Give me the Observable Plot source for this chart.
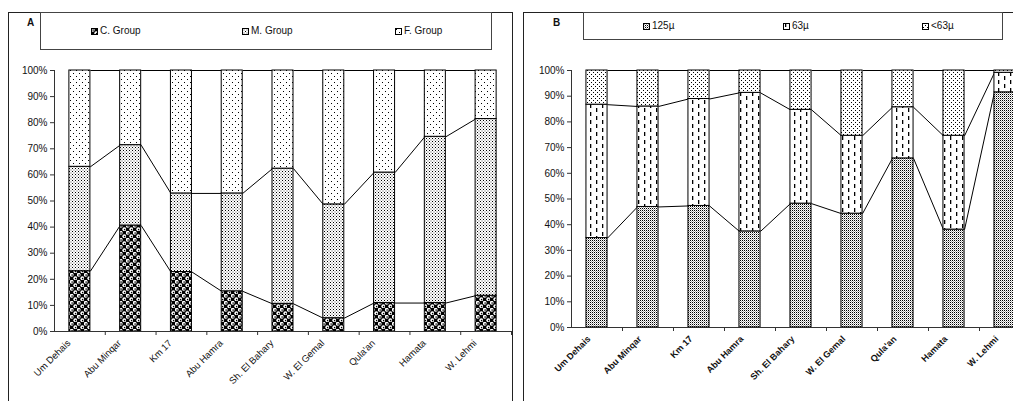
<!DOCTYPE html>
<html>
<head>
<meta charset="utf-8">
<script src="https://cdn.jsdelivr.net/npm/d3@7"></script>
<script src="https://cdn.jsdelivr.net/npm/@observablehq/plot@0.6"></script>
<style>
  body { margin: 0; background: #fff; font-family: "Liberation Sans", Arial, sans-serif; }
  #page { position: relative; width: 1013px; height: 401px; overflow: hidden; background: #fff; }
  .frame { position: absolute; border: 1px solid #222; box-sizing: border-box; }
  .legend { position: absolute; border: 1px solid #444; box-sizing: border-box; background: #fff; }
  .item { position: absolute; font-size: 10px; line-height: 12px; white-space: nowrap; color: #111; }
  .item svg { vertical-align: -1px; margin-right: 2px; }
  .tag { position: absolute; font-weight: bold; font-size: 10px; color: #111; }
  .plot { position: absolute; left: 0; top: 0; }
</style>
</head>
<body>
<!-- fill patterns shared by bars and legend swatches -->
<svg width="0" height="0" style="position:absolute">
  <defs>
    <pattern id="patC" width="7" height="7" patternUnits="userSpaceOnUse">
      <rect width="7" height="7" fill="#000"/>
      <circle cx="1.75" cy="1.75" r="1.9" fill="#fff"/>
      <circle cx="5.25" cy="5.25" r="1.9" fill="#fff"/>
      <circle cx="2.1" cy="2.1" r="0.8" fill="#000"/>
      <circle cx="5.6" cy="5.6" r="0.8" fill="#000"/>
    </pattern>
    <pattern id="patM" width="3" height="3" patternUnits="userSpaceOnUse">
      <rect width="3" height="3" fill="#fff"/>
      <rect x="0" y="0" width="1" height="1" fill="#000"/>
      <rect x="1.5" y="1.5" width="1" height="1" fill="#555"/>
    </pattern>
    <pattern id="patF" width="6" height="6" patternUnits="userSpaceOnUse">
      <rect width="6" height="6" fill="#fff"/>
      <rect x="1" y="1" width="1" height="1" fill="#000"/>
      <rect x="4" y="4" width="1" height="1" fill="#000"/>
    </pattern>
    <pattern id="pat125" width="2" height="2" patternUnits="userSpaceOnUse">
      <rect width="2" height="2" fill="#fff"/>
      <rect x="0" y="0" width="1" height="1" fill="#000"/>
      <rect x="1" y="1" width="1" height="1" fill="#aaa"/>
    </pattern>
    <pattern id="pat63" width="12" height="8" patternUnits="userSpaceOnUse">
      <rect width="12" height="8" fill="#fff"/>
      <rect x="2" y="0" width="1.3" height="4" fill="#000"/>
      <rect x="8" y="4" width="1.3" height="4" fill="#000"/>
    </pattern>
    <pattern id="patFine" width="4" height="4" patternUnits="userSpaceOnUse">
      <rect width="4" height="4" fill="#fff"/>
      <rect x="1" y="0" width="1" height="1" fill="#000"/>
      <rect x="3" y="2" width="1" height="1" fill="#000"/>
    </pattern>
  </defs>
</svg>

<div id="page">
  <div class="frame" style="left:8px;top:12px;width:505px;height:400px"></div>
  <div class="frame" style="left:523px;top:12px;width:600px;height:400px"></div>
  <div class="legend" id="legA" style="left:40px;top:12px;width:452px;height:38px"></div>
  <div class="legend" id="legB" style="left:583px;top:12px;width:420px;height:28px"></div>
  <div class="tag" style="left:27px;top:17px">A</div>
  <div class="tag" style="left:553px;top:17px">B</div>
</div>

<script>
// Sampling sites (shared by both panels)
const sites = ["Um Dehais", "Abu Minqar", "Km 17", "Abu Hamra", "Sh. El Bahary", "W. El Gemal", "Qula'an", "Hamata", "W. Lehmi"];

// Panel A: mineral group proportions (%)
const groupNames = ["C. Group", "M. Group", "F. Group"];
const cGroup = [23.1, 40.6, 22.8, 15.4, 10.6, 5.1, 10.9, 10.9, 13.7];
const mGroup = [40.0, 30.8, 30.1, 37.5, 51.8, 43.6, 50.0, 63.7, 67.7];
const fGroup = [36.9, 28.6, 47.1, 47.1, 37.6, 51.3, 39.1, 25.4, 18.6];

// Panel B: grain-size fractions (%)
const sizeNames = ["125µ", "63µ", "<63µ"];
const size125 = [34.8, 46.9, 47.3, 37.4, 48.2, 44.3, 65.8, 38.1, 91.5];
const size63 = [51.9, 39.1, 41.6, 53.9, 36.5, 30.3, 19.9, 36.5, 7.6];
const sizeFine = [13.3, 14.0, 11.1, 8.7, 15.3, 25.4, 14.3, 25.4, 0.9];

const yTicks = [0, 10, 20, 30, 40, 50, 60, 70, 80, 90, 100];

const page = document.getElementById("page");
const HW = 0.207; // half bar width, in category units

function stackedPanel({series, fills, xRange, yRange, marginLeft, marginRight, labelWeight, labelSize, yLabelSize, labelDx, labelDy}) {
  const segs = series.map(() => []);
  const tops = series.map(() => []);
  sites.forEach((site, i) => {
    let acc = 0;
    series.forEach((vals, k) => {
      const y1 = acc;
      acc += vals[i];
      segs[k].push({i, site, y1, y2: acc});
      tops[k].push(acc);
    });
  });
  // series lines joining each segment boundary to the next bar
  const links = [];
  tops.forEach(t => {
    for (let i = 0; i < t.length - 1; i++) links.push({a: i + HW, b: i + 1 - HW, ya: t[i], yb: t[i + 1]});
  });
  const idx = sites.map((_, i) => i);
  return Plot.plot({
    width: 1013,
    height: 401,
    marginLeft,
    marginRight,
    marginTop: yRange[1],
    marginBottom: 401 - yRange[0],
    style: {background: "none", overflow: "hidden", fontFamily: "'Liberation Sans', Arial, sans-serif", color: "#111"},
    x: {type: "linear", domain: [-0.5, sites.length - 0.5], range: xRange},
    y: {domain: [0, 100], range: yRange},
    marks: [
      Plot.link(links, {x1: "a", x2: "b", y1: "ya", y2: "yb", stroke: "#000", strokeWidth: 1}),
      ...segs.map((rows, k) => Plot.rect(rows, {
        x1: d => d.i - HW, x2: d => d.i + HW, y1: "y1", y2: "y2",
        fill: fills[k], stroke: "#000", strokeWidth: 1
      })),
      Plot.ruleY([0], {stroke: "#333"}),
      Plot.ruleX([-0.5], {y1: 0, y2: 100, stroke: "#333"}),
      Plot.axisY({ticks: yTicks, tickFormat: d => d + "%", tickSize: 4, tickPadding: 3, fontSize: yLabelSize, stroke: "#333"}),
      Plot.axisX({ticks: idx.map(i => i + 0.5), tickFormat: () => "", tickSize: 4, stroke: "#333"}),
      Plot.axisX({
        ticks: idx, tickFormat: i => sites[i], tickSize: 0, tickRotate: -45,
        tickPadding: 0, dx: labelDx, dy: labelDy, fontSize: labelSize, fontWeight: labelWeight
      })
    ]
  });
}

const plotA = stackedPanel({
  series: [cGroup, mGroup, fGroup],
  fills: ["url(#patC)", "url(#patM)", "url(#patF)"],
  xRange: [54, 511], yRange: [331, 70],
  marginLeft: 54, marginRight: 502,
  labelWeight: "normal", labelSize: 9.5, yLabelSize: 10, labelDx: -11, labelDy: 10
});
const plotB = stackedPanel({
  series: [size125, size63, sizeFine],
  fills: ["url(#pat125)", "url(#pat63)", "url(#patFine)"],
  xRange: [571, 1030], yRange: [327, 70],
  marginLeft: 571, marginRight: 0,
  labelWeight: "bold", labelSize: 9, yLabelSize: 10, labelDx: -8, labelDy: 10
});
[plotA, plotB].forEach(p => { p.classList.add("plot"); page.appendChild(p); });
// legends and tags sit above the plots
page.querySelectorAll(".legend, .tag").forEach(el => page.appendChild(el));

function swatch(fill) {
  return `<svg width="7" height="7"><rect x="0.5" y="0.5" width="6" height="6" fill="${fill}" stroke="#000"/></svg>`;
}
function legend(id, names, fills, lefts, top) {
  const box = document.getElementById(id);
  names.forEach((n, k) => {
    const d = document.createElement("div");
    d.className = "item";
    d.style.left = lefts[k] + "px";
    d.style.top = top + "px";
    d.innerHTML = swatch(fills[k]) + n;
    box.appendChild(d);
  });
}
legend("legA", groupNames, ["url(#patC)", "url(#patM)", "url(#patF)"], [50, 201, 354], 12);
legend("legB", sizeNames, ["url(#pat125)", "url(#pat63)", "url(#patFine)"], [59, 199, 338], 7);
</script>
</body>
</html>
